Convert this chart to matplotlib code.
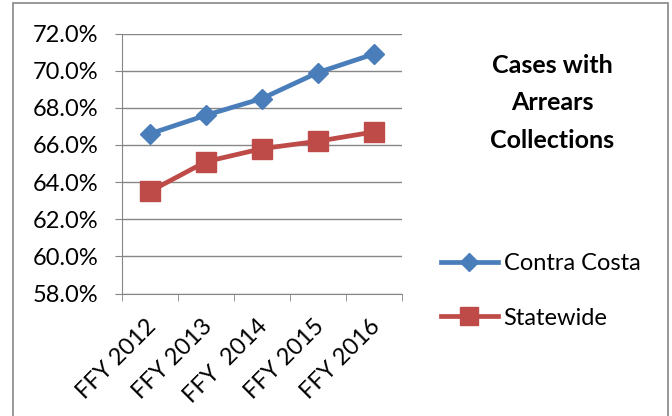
import matplotlib.pyplot as plt
from matplotlib.patches import Rectangle
from matplotlib.ticker import FuncFormatter
from matplotlib.transforms import ScaledTranslation

years = ["FFY 2012", "FFY 2013", "FFY  2014", "FFY 2015", "FFY 2016"]
contra_costa = [66.6, 67.6, 68.5, 69.9, 70.9]
statewide = [63.5, 65.1, 65.8, 66.2, 66.7]

plt.rcParams['font.family'] = ['Lato', 'DejaVu Sans']
grey = "#868686"

fig = plt.figure(figsize=(6.72, 4.16), dpi=100)
ax = fig.add_axes([122 / 672, 1 - 293.5 / 416, 280 / 672, 260 / 416])

x = list(range(len(years)))
ax.plot(x, contra_costa, color="#4A7EBB", lw=3.4, marker="D", ms=10,
        label="Contra Costa", zorder=3)
ax.plot(x, statewide, color="#BE4B48", lw=3.4, marker="s", ms=14,
        label="Statewide", zorder=3)

ax.set_xlim(-0.5, len(years) - 0.5)
ax.set_ylim(58, 72)
ax.set_yticks(range(58, 73, 2))
ax.yaxis.set_major_formatter(FuncFormatter(lambda v, p: f"{v:.1f}%"))
ax.grid(axis="y", color=grey, lw=1)
ax.set_axisbelow(True)

# labels sit under the category, tick marks on the category edges
ax.set_xticks(x)
ax.set_xticklabels(years, rotation=45, ha="right", va="top",
                   rotation_mode="anchor", fontsize=17)
ax.set_xticks([i - 0.5 for i in range(len(years) + 1)], minor=True)
ax.tick_params(axis="x", which="major", length=0, pad=16)
ax.tick_params(axis="x", which="minor", length=5, color=grey)
ax.tick_params(axis="y", length=5, color=grey, labelsize=17, pad=12)
shift = ScaledTranslation(-5 / 100, 0, fig.dpi_scale_trans)
for lab in ax.get_xticklabels():
    lab.set_transform(lab.get_transform() + shift)

for s in ["top", "right"]:
    ax.spines[s].set_visible(False)
for s in ["left", "bottom"]:
    ax.spines[s].set_color(grey)

fig.text(552 / 672, 1 - 103 / 416, "Cases with\nArrears\nCollections",
         ha="center", va="center", fontsize=18, fontweight="bold",
         linespacing=1.75)

fig.legend(loc="upper left", bbox_to_anchor=(441 / 672, 1 - 253 / 416),
           frameon=False, fontsize=17, handlelength=2.4, borderpad=0,
           borderaxespad=0, handletextpad=0.25, labelspacing=1.42,
           markerscale=0.9)

fig.patches.append(Rectangle((13 / 672, -0.02), 655 / 672, 1.0 - 3 / 416 + 0.02,
                             transform=fig.transFigure, fill=False,
                             edgecolor=grey, lw=1.2))

fig.savefig("out.png", dpi=100)
